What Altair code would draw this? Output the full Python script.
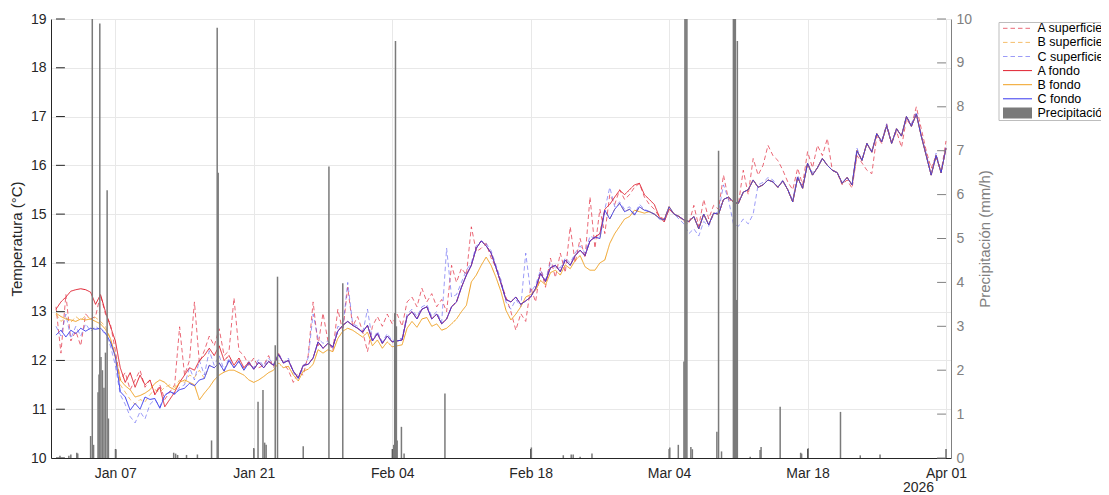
import altair as alt
import pandas as pd

# ---------------- datos (una muestra cada 12 h desde 2026-01-01 00:00) ----------------
inicio = "2026-01-01T00:00:00"
paso_horas = 12

A_superficie = [
    13.10, 12.15, 13.35, 12.40, 12.60, 12.30, 12.95, 12.85, 12.90, 13.35,
    12.95, 12.75, 12.20, 11.60, 11.75, 11.40, 11.60, 11.80, 11.45, 11.60,
    11.30, 11.50, 11.20, 11.35, 11.50, 12.69, 11.70, 12.00, 13.20, 11.95,
    12.20, 12.50, 12.30, 12.65, 12.10, 12.20, 13.28, 12.20, 12.10, 11.90,
    12.05, 11.85, 11.90, 12.10, 11.85, 12.15, 11.95, 11.80, 11.55, 11.75,
    11.70, 12.10, 13.20, 12.30, 12.97, 12.40, 12.20, 13.05, 12.60, 13.50,
    12.70, 12.90, 12.60, 12.18, 12.70, 12.90, 12.70, 12.95, 12.75, 12.95,
    12.70, 13.20, 13.30, 13.10, 13.48, 13.20, 13.37, 13.10, 13.25, 13.00,
    13.95, 13.60, 13.89, 13.75, 14.74, 14.23, 14.30, 14.40, 14.10, 13.90,
    13.60, 13.30, 13.00, 12.62, 12.96, 12.80, 13.50, 13.20, 13.90, 13.50,
    14.10, 13.70, 14.20, 13.80, 14.74, 14.00, 14.50, 14.10, 15.35, 14.30,
    15.10, 14.60, 15.40, 15.20, 15.50, 15.30, 15.40, 15.55, 15.63, 15.35,
    15.20, 15.10, 14.95, 14.90, 15.15, 15.00, 14.95, 14.85, 14.80, 15.18,
    14.75, 15.30, 14.90, 15.18, 15.10, 15.80, 15.30, 15.25, 15.20, 15.90,
    15.40, 16.14, 15.80, 16.00, 16.41, 16.20, 16.10, 15.90, 15.66, 15.50,
    15.94, 15.60, 16.28, 15.95, 16.41, 16.20, 16.55, 15.90, 15.85, 15.60,
    15.70, 15.53, 16.20, 16.05, 15.90, 15.83, 16.60, 16.45, 16.85, 16.45,
    16.70, 16.37, 16.95, 16.80, 17.20, 16.75, 16.30, 15.94, 16.20, 15.85,
    16.50,
]
B_superficie = [
    12.95, 12.80, 12.88, 12.78, 12.90, 12.82, 12.92, 12.85, 12.88, 12.80,
    12.70, 12.45, 12.05, 11.50, 11.35, 11.20, 11.10, 11.20, 11.15, 11.30,
    11.40, 11.35, 11.45, 11.50, 11.45, 11.60, 11.55, 11.70, 11.65, 11.80,
    11.63, 11.90, 11.85, 11.95, 11.78, 12.00, 11.85, 11.98, 11.80, 11.95,
    11.82, 11.96, 11.85, 11.98, 11.90, 12.12, 11.95, 12.00, 11.78, 11.64,
    11.90, 11.92, 12.05, 12.38, 12.25, 12.35, 12.28, 12.60, 12.72, 12.80,
    12.72, 12.66, 12.58, 12.72, 12.40, 12.55, 12.35, 12.50, 12.38, 12.40,
    12.42, 12.90, 13.00, 12.85, 13.05, 13.10, 12.85, 12.95, 12.75, 12.85,
    13.10, 13.20, 13.50, 13.75, 13.95, 14.30, 14.45, 14.35, 14.20, 13.90,
    13.58, 13.25, 13.20, 13.30, 13.15, 13.22, 13.30, 13.48, 13.78, 13.62,
    13.90, 13.95, 13.82, 14.06, 13.95, 14.15, 14.26, 14.15, 14.45, 14.53,
    14.50, 15.08, 14.90, 15.10, 15.22, 15.05, 15.10, 14.98, 15.15, 15.08,
    15.05, 15.00, 14.92, 14.88, 15.15, 15.00, 14.95, 14.88, 14.85, 14.95,
    14.70, 15.00, 14.78, 15.02, 15.00, 15.30, 15.35, 15.25, 15.22, 15.45,
    15.50, 15.70, 15.55, 15.60, 15.70, 15.66, 15.55, 15.68, 15.50, 15.25,
    15.75, 15.53, 16.04, 15.80, 15.95, 16.14, 16.00, 15.90, 15.85, 15.63,
    15.75, 15.60, 16.30, 16.10, 16.45, 16.27, 16.65, 16.48, 16.81, 16.45,
    16.75, 16.60, 17.00, 16.80, 17.05, 16.60, 16.20, 15.80, 16.20, 15.85,
    16.35,
]
C_superficie = [
    12.70, 12.50, 12.95, 12.45, 12.70, 12.50, 12.75, 12.60, 12.70, 12.62,
    12.55, 12.30, 11.90, 11.30, 11.10, 10.85, 10.72, 10.95, 10.80, 11.10,
    11.20, 11.05, 11.30, 11.35, 11.30, 11.45, 11.50, 11.85, 11.60, 12.00,
    11.70, 12.20, 11.90, 12.10, 11.80, 12.05, 11.85, 12.00, 11.80, 11.98,
    11.85, 12.02, 11.88, 12.05, 11.92, 12.15, 11.95, 12.05, 11.75, 11.62,
    11.85, 12.05, 12.95, 12.45, 12.35, 12.40, 12.25, 12.70, 12.65, 13.60,
    12.75, 12.70, 12.55, 13.05, 12.40, 12.60, 12.38, 12.55, 12.40, 12.45,
    12.45, 12.95, 13.05, 12.90, 13.10, 13.15, 12.90, 13.00, 12.78, 14.30,
    13.30, 13.35, 13.60, 13.85, 14.00, 14.35, 14.45, 14.40, 14.25, 13.95,
    13.65, 13.20, 13.05, 13.25, 13.10, 14.20, 13.40, 13.55, 13.85, 13.65,
    14.00, 13.90, 13.90, 14.10, 14.00, 14.20, 14.35, 14.20, 14.55, 14.50,
    14.60, 15.10, 15.55, 15.15, 15.25, 15.10, 15.15, 15.00, 15.20, 15.10,
    15.05, 15.00, 14.90, 14.85, 15.10, 15.00, 14.90, 14.80, 14.60, 14.70,
    14.55, 14.85, 14.75, 15.00, 15.05, 15.60, 15.30, 14.80, 14.75, 14.90,
    14.80, 15.00, 15.60, 15.65, 15.75, 15.70, 15.55, 15.70, 15.50, 15.30,
    15.80, 15.55, 16.05, 15.85, 15.95, 16.15, 16.00, 15.90, 15.85, 15.65,
    15.75, 15.60, 16.35, 16.10, 16.45, 16.30, 16.65, 16.50, 16.85, 16.45,
    16.75, 16.60, 17.00, 16.85, 17.10, 16.60, 16.25, 15.80, 16.25, 15.85,
    16.40,
]
A_fondo = [
    13.05, 13.20, 13.30, 13.42, 13.45, 13.47, 13.45, 13.40, 13.15, 13.35,
    13.00, 12.70, 12.40, 11.85, 11.55, 11.75, 11.45, 11.70, 11.50, 11.60,
    11.30, 11.45, 11.05, 11.20, 11.35, 11.55, 11.70, 11.85, 11.80, 12.00,
    12.10, 12.25, 12.10, 12.30, 12.00, 12.10, 11.90, 12.05, 11.85, 11.97,
    11.82, 11.96, 11.85, 11.98, 11.90, 12.12, 11.95, 12.00, 11.78, 11.64,
    11.90, 11.92, 12.05, 12.38, 12.25, 12.35, 12.28, 12.60, 12.72, 12.80,
    12.72, 12.66, 12.58, 12.72, 12.40, 12.55, 12.35, 12.50, 12.38, 12.40,
    12.42, 12.90, 13.00, 12.85, 13.05, 13.10, 12.85, 12.95, 12.75, 12.85,
    13.10, 13.20, 13.50, 13.75, 13.95, 14.30, 14.45, 14.35, 14.20, 13.90,
    13.58, 13.25, 13.20, 13.30, 13.15, 13.22, 13.30, 13.48, 13.78, 13.62,
    13.90, 13.95, 13.82, 14.06, 13.95, 14.15, 14.26, 14.15, 14.45, 14.53,
    14.60, 15.10, 15.20, 15.35, 15.49, 15.40, 15.50, 15.60, 15.63, 15.40,
    15.30, 15.20, 14.95, 14.84, 15.10, 15.00, 14.95, 14.88, 14.85, 14.95,
    14.70, 15.00, 14.78, 15.02, 15.00, 15.30, 15.35, 15.25, 15.22, 15.45,
    15.50, 15.70, 15.55, 15.60, 15.70, 15.66, 15.55, 15.68, 15.50, 15.25,
    15.75, 15.53, 16.04, 15.80, 15.95, 16.14, 16.00, 15.90, 15.85, 15.63,
    15.75, 15.60, 16.30, 16.10, 16.45, 16.27, 16.65, 16.48, 16.81, 16.45,
    16.75, 16.60, 17.00, 16.80, 17.05, 16.60, 16.20, 15.80, 16.20, 15.85,
    16.35,
]
B_fondo = [
    12.97, 12.90, 12.85, 12.83, 12.80, 12.85, 12.83, 12.85, 12.80, 12.75,
    12.64, 12.45, 12.10, 11.60, 11.48, 11.40, 11.25, 11.28, 11.33, 11.40,
    11.53, 11.60, 11.55, 11.45, 11.40, 11.55, 11.60, 11.55, 11.50, 11.19,
    11.33, 11.45, 11.60, 11.70, 11.76, 11.80, 11.80, 11.75, 11.70, 11.60,
    11.55, 11.60, 11.67, 11.75, 11.80, 11.95, 11.85, 11.88, 11.70, 11.58,
    11.78, 11.82, 11.92, 12.22, 12.15, 12.22, 12.18, 12.45, 12.60, 12.66,
    12.62, 12.55, 12.48, 12.58, 12.30, 12.42, 12.25, 12.38, 12.28, 12.30,
    12.32, 12.66, 12.80, 12.68, 12.85, 12.88, 12.70, 12.75, 12.62, 12.66,
    12.75, 12.85, 13.00, 13.13, 13.61, 13.75, 13.95, 14.12, 13.95, 13.70,
    13.41, 13.03, 12.83, 12.95, 13.10, 13.30, 13.35, 13.44, 13.64, 13.55,
    13.80, 13.85, 13.75, 13.96, 13.88, 14.05, 14.15, 13.92, 13.85, 13.85,
    14.00, 14.06, 14.40, 14.60, 14.75, 14.90, 14.95, 15.08, 15.05, 15.02,
    15.05, 15.00, 14.92, 14.88, 15.15, 15.00, 14.95, 14.88, 14.85, 14.95,
    14.70, 15.00, 14.78, 15.02, 15.00, 15.30, 15.35, 15.25, 15.22, 15.45,
    15.50, 15.70, 15.55, 15.60, 15.70, 15.66, 15.55, 15.68, 15.50, 15.25,
    15.75, 15.53, 16.04, 15.80, 15.95, 16.14, 16.00, 15.90, 15.85, 15.63,
    15.75, 15.60, 16.30, 16.10, 16.45, 16.27, 16.65, 16.48, 16.81, 16.45,
    16.75, 16.60, 17.00, 16.80, 17.05, 16.60, 16.20, 15.80, 16.20, 15.85,
    16.35,
]
C_fondo = [
    12.52, 12.62, 12.48, 12.62, 12.55, 12.66, 12.60, 12.66, 12.64, 12.66,
    12.56, 12.38, 12.08, 11.36, 11.25, 10.98, 11.12, 11.00, 11.25, 11.20,
    11.22, 11.02, 11.28, 11.36, 11.32, 11.40, 11.43, 11.53, 11.48, 11.60,
    11.63, 11.90, 11.85, 11.95, 11.78, 12.00, 11.85, 11.98, 11.80, 11.95,
    11.82, 11.96, 11.85, 11.98, 11.90, 12.12, 11.95, 12.00, 11.78, 11.64,
    11.90, 11.92, 12.05, 12.38, 12.25, 12.35, 12.28, 12.60, 12.72, 12.80,
    12.72, 12.66, 12.58, 12.72, 12.40, 12.55, 12.35, 12.50, 12.38, 12.40,
    12.42, 12.90, 13.00, 12.85, 13.05, 13.10, 12.85, 12.95, 12.75, 12.85,
    13.10, 13.20, 13.50, 13.75, 13.95, 14.30, 14.45, 14.35, 14.20, 13.90,
    13.58, 13.25, 13.20, 13.30, 13.15, 13.22, 13.30, 13.48, 13.78, 13.62,
    13.90, 13.95, 13.82, 14.06, 13.95, 14.15, 14.26, 14.15, 14.45, 14.53,
    14.50, 15.08, 14.90, 15.10, 15.22, 15.05, 15.10, 14.98, 15.15, 15.08,
    15.05, 15.00, 14.92, 14.88, 15.15, 15.00, 14.95, 14.88, 14.85, 14.95,
    14.70, 15.00, 14.78, 15.02, 15.00, 15.30, 15.35, 15.25, 15.22, 15.45,
    15.50, 15.70, 15.55, 15.60, 15.70, 15.66, 15.55, 15.68, 15.50, 15.25,
    15.75, 15.53, 16.04, 15.80, 15.95, 16.14, 16.00, 15.90, 15.85, 15.63,
    15.75, 15.60, 16.30, 16.10, 16.45, 16.27, 16.65, 16.48, 16.81, 16.45,
    16.75, 16.60, 17.00, 16.80, 17.05, 16.60, 16.20, 15.80, 16.20, 15.85,
    16.35,
]

series = ["A superficie", "B superficie", "C superficie", "A fondo", "B fondo", "C fondo"]
valores = [A_superficie, B_superficie, C_superficie, A_fondo, B_fondo, C_fondo]

# precipitación: día desde el 1 de enero y intensidad (mm/h)
lluvia_dia = [0.4, 1.3, 1.5, 2.1, 2.2, 3.5, 3.67, 3.8, 4.25, 4.35, 4.43, 4.55, 4.7, 4.85, 5.0,
              5.17, 5.3, 6.07, 11.9, 12.1, 12.3, 13.2, 14.3, 15.73, 16.3, 16.4, 20.0, 20.43,
              20.93, 21.1, 21.25, 22.17, 22.4, 25.0, 27.6, 29.0, 34.15, 34.25, 34.33, 34.42,
              34.5, 34.93, 35.2, 39.33, 48.07, 51.3, 52.1, 52.3, 53.0, 54.2, 62.07, 62.93,
              63.5, 63.6, 63.7, 63.8, 64.2, 64.35, 66.83, 67.0, 67.3, 68.5, 68.6, 68.7, 68.8,
              68.9, 70.2, 71.2, 71.3, 73.23, 75.3, 75.4, 76.07, 79.33, 81.33, 83.33]
lluvia_mmh = [0.05, 0.05, 0.08, 0.12, 0.1, 0.5, 10, 0.3, 1.5, 1.9, 9.9, 2.3, 2.0, 1.6, 2.4,
              6.1, 0.9, 0.2, 0.12, 0.1, 0.07, 0.07, 0.08, 0.4, 9.8, 6.5, 0.23, 1.28,
              1.55, 0.35, 0.3, 2.57, 4.13, 0.27, 6.64, 3.98, 0.3, 3.3, 9.5, 3.0,
              0.4, 0.71, 0.1, 1.47, 0.24, 0.06, 0.08, 0.08, 0.03, 0.1, 0.24, 0.3,
              2.2, 10, 10, 10, 0.25, 0.2, 0.6, 7.0, 0.15, 10, 10, 10, 3.6,
              9.5, 0.03, 0.18, 0.25, 1.17, 0.12, 0.1, 0.22, 1.05, 0.06, 0.08]

ticks_fechas = [(2026, 1, 7), (2026, 1, 21), (2026, 2, 4), (2026, 2, 18),
                (2026, 3, 4), (2026, 3, 18), (2026, 4, 1)]
ticks_temp = list(range(10, 20))
ticks_lluvia = list(range(0, 11))
etiqueta_anio = "2026"

for v in valores:
    assert len(v) == len(C_fondo)
assert len(lluvia_dia) == len(lluvia_mmh)

# ---------------- tablas ----------------
fmt = "%Y-%m-%dT%H:%M:%S"
t0 = pd.Timestamp(inicio)
t_fin = pd.Timestamp("2026-04-01T00:00:00")
fechas = [t0 + pd.Timedelta(hours=paso_horas * i) for i in range(len(C_fondo))]

temp_df = pd.DataFrame([
    {"fecha": f.strftime(fmt), "serie": s, "temp": v}
    for s, vals in zip(series, valores) for f, v in zip(fechas, vals)
])
lluvia_df = pd.DataFrame({
    "fecha": [(t0 + pd.Timedelta(days=d)).strftime(fmt) for d in lluvia_dia],
    "mmh": lluvia_mmh,
    "serie": "Precipitación",
})

tick_len = pd.Timedelta(hours=21.6)
izq_df = pd.DataFrame({"fecha": t0.strftime(fmt), "fecha2": (t0 + tick_len).strftime(fmt), "temp": ticks_temp})
abajo_df = pd.DataFrame({"fecha": [pd.Timestamp(year=y, month=m, day=d).strftime(fmt) for y, m, d in ticks_fechas],
                         "temp": 10.0, "temp2": 10.184})
der_df = pd.DataFrame({"fecha": (t_fin - tick_len).strftime(fmt), "fecha2": t_fin.strftime(fmt), "mmh": ticks_lluvia})
anio_df = pd.DataFrame({"fecha": [(t0 + pd.Timedelta(days=88.8)).strftime(fmt)], "label": [etiqueta_anio]})

# ---------------- escalas / ejes ----------------
FONT = "Liberation Sans"
DARK = "#262626"
GRAYAX = "#808080"

dominio = series + ["Precipitación"]
colores = ["#e3374a", "#f2a93b", "#5a5af2", "#e0202f", "#f0a020", "#3636ee", "#7a7a7a"]
dashes = [[4.5, 3], [4.5, 3], [4.5, 3], [1, 0], [1, 0], [1, 0], [1, 0]]
anchos = [1, 1, 1, 1, 1, 1, 11]
opac = [0.75, 0.75, 0.6, 1, 1, 1, 1]

leyenda = alt.Legend(
    title=None, orient="none", legendX=947.5, legendY=3, padding=0,
    strokeColor="#bdbdbd", fillColor="white", symbolType="stroke", symbolSize=841,
    clipHeight=12.6, rowPadding=1.1, labelOffset=0, symbolOffset=-1,
    labelFontSize=12.5, labelColor="black", labelFont=FONT, labelLimit=300,
)

color_enc = alt.Color("serie:N", scale=alt.Scale(domain=dominio, range=colores), legend=leyenda)
dash_enc = alt.StrokeDash("serie:N", scale=alt.Scale(domain=dominio, range=dashes), legend=leyenda)
sw_enc = alt.StrokeWidth("serie:N", scale=alt.Scale(type="ordinal", domain=dominio, range=anchos), legend=leyenda)
op_enc = alt.Opacity("serie:N", scale=alt.Scale(type="ordinal", domain=dominio, range=opac), legend=leyenda)

x_scale = alt.Scale(domain=[alt.DateTime(year=2026, month=1, date=1),
                            alt.DateTime(year=2026, month=4, date=1)], nice=False)
x_axis = alt.Axis(
    values=[alt.DateTime(year=y, month=m, date=d) for y, m, d in ticks_fechas],
    format="%b %d", labelFontSize=14, labelColor=DARK, labelFont=FONT, ticks=False,
    domainColor=DARK, grid=True, gridColor="#e8e8e8", labelPadding=8,
    labelFlush=False, labelOverlap=False, title=None,
)
y_scale_t = alt.Scale(domain=[10, 19], nice=False, zero=False)
y_axis_t = alt.Axis(
    orient="left", values=ticks_temp, labelFontSize=14, labelColor=DARK, labelFont=FONT,
    ticks=False, domainColor=DARK, grid=True, gridColor="#e8e8e8", labelPadding=5,
    labelFlush=False, title="Temperatura (°C)", titleFontSize=15, titleFontWeight="normal",
    titleColor=DARK, titleFont=FONT, titlePadding=6,
)
y_scale_p = alt.Scale(domain=[0, 10], nice=False)
y_axis_p = alt.Axis(
    orient="right", values=ticks_lluvia, labelFontSize=14, labelColor=GRAYAX, labelFont=FONT,
    ticks=False, domainColor=GRAYAX, grid=False, labelPadding=5, labelFlush=False,
    title="Precipitación (mm/h)", titleFontSize=15, titleFontWeight="normal",
    titleColor=GRAYAX, titleFont=FONT, titleAngle=270, titleBaseline="top", titlePadding=6,
)


def xenc(field="fecha"):
    return alt.X(f"{field}:T", scale=x_scale, axis=x_axis)


def ytemp(field="temp"):
    return alt.Y(f"{field}:Q", scale=y_scale_t, axis=y_axis_t)


def ylluvia(field="mmh"):
    return alt.Y(f"{field}:Q", scale=y_scale_p, axis=y_axis_p)


# ---------------- capas ----------------
capas_lineas = [
    alt.Chart(temp_df).transform_filter(alt.datum.serie == s).mark_line(clip=True).encode(
        x=xenc(), y=ytemp(), color=color_enc, strokeDash=dash_enc,
        strokeWidth=sw_enc, opacity=op_enc,
    )
    for s in series
]

ticks_izq = alt.Chart(izq_df).mark_rule(color=DARK, strokeWidth=1).encode(
    x=xenc(), x2=alt.X2("fecha2:T"), y=ytemp())
ticks_abajo = alt.Chart(abajo_df).mark_rule(color=DARK, strokeWidth=1).encode(
    x=xenc(), y=ytemp(), y2=alt.Y2("temp2:Q"))
anio = alt.Chart(anio_df).mark_text(align="right", baseline="middle", fontSize=14,
                                     color=DARK, font=FONT).encode(
    x=xenc(), y=alt.value(469), text="label:N")

barras = alt.Chart(lluvia_df).mark_bar(width=1.5, clip=True).encode(
    x=xenc(), y=ylluvia(), color=color_enc)
ticks_der = alt.Chart(der_df).mark_rule(color=GRAYAX, strokeWidth=1).encode(
    x=xenc(), x2=alt.X2("fecha2:T"), y=ylluvia())

grupo_temp = alt.layer(*capas_lineas, ticks_izq, ticks_abajo, anio)
grupo_lluvia = alt.layer(barras, ticks_der)

# 43 + 900 + 150 = 1093 px: fits the 1109 px window minus the 8 px page margins
chart = alt.layer(grupo_temp, grupo_lluvia).resolve_scale(y="independent").properties(
    width=900, height=439,
    padding={"left": 43, "top": 11, "right": 150, "bottom": 36},
    autosize=alt.AutoSizeParams(type="none"),
).configure(font=FONT).configure_view(stroke="transparent")

chart.save("out.html", embed_options={"renderer": "svg", "actions": False})
